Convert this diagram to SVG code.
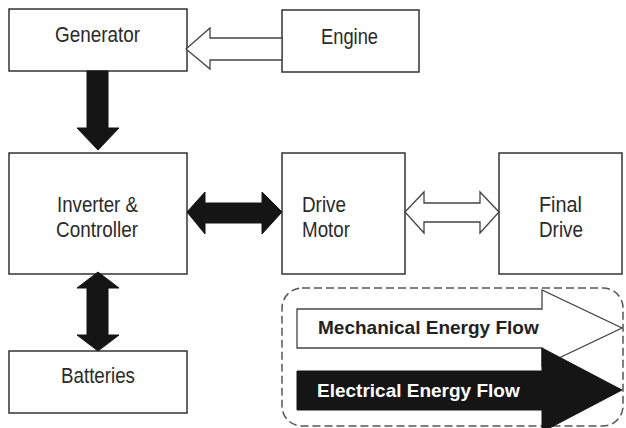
<svg xmlns="http://www.w3.org/2000/svg" width="626" height="428" viewBox="0 0 626 428">
<style>
.box{fill:#fff;stroke:#333;stroke-width:1.5}
.lbl{font-family:"Liberation Sans",Arial,sans-serif;font-size:22px;fill:#2a2a2a}
.leg{font-family:"Liberation Sans",Arial,sans-serif;font-size:19px;font-weight:bold}
.el{fill:#151515;stroke:#151515;stroke-width:1;stroke-linejoin:miter}
.me{fill:#fff;stroke:#444;stroke-width:1.3;stroke-linejoin:miter}
</style>
<rect width="626" height="428" fill="#fff"/>
<g id="generator"><rect class="box" x="9" y="9" width="178" height="62"/><text class="lbl" x="55" y="42" textLength="85" lengthAdjust="spacingAndGlyphs">Generator</text></g>
<g id="engine"><rect class="box" x="282" y="10" width="137" height="62"/><text class="lbl" x="321" y="44" textLength="57" lengthAdjust="spacingAndGlyphs">Engine</text></g>
<g id="inverter"><rect class="box" x="9" y="153" width="178" height="121"/><text class="lbl" x="57" y="212" textLength="81" lengthAdjust="spacingAndGlyphs">Inverter &amp;</text><text class="lbl" x="56" y="237" textLength="82" lengthAdjust="spacingAndGlyphs">Controller</text></g>
<g id="drivemotor"><rect class="box" x="282" y="153" width="123" height="121"/><text class="lbl" x="302" y="212" textLength="44" lengthAdjust="spacingAndGlyphs">Drive</text><text class="lbl" x="302" y="237" textLength="48" lengthAdjust="spacingAndGlyphs">Motor</text></g>
<g id="finaldrive"><rect class="box" x="499" y="153" width="123" height="121"/><text class="lbl" x="539" y="212" textLength="43" lengthAdjust="spacingAndGlyphs">Final</text><text class="lbl" x="539" y="237" textLength="44" lengthAdjust="spacingAndGlyphs">Drive</text></g>
<g id="batteries"><rect class="box" x="9" y="351" width="178" height="62"/><text class="lbl" x="61" y="383" textLength="74" lengthAdjust="spacingAndGlyphs">Batteries</text></g>
<g id="connectors">
<polygon class="me" points="282,38 210,38 210,28 186,49 210,69 210,60 282,60"/>
<polygon class="el" points="87,71 108,71 108,128 119,128 98,150 77,128 87,128"/>
<polygon class="el" points="98,272 119,288 108,288 108,335 119,335 98,351 77,335 87,335 87,288 77,288"/>
<polygon class="el" points="187,212 205,192 205,203 262,203 262,192 282,212 262,234 262,223 205,223 205,234"/>
<polygon class="me" points="405,212 424,192 424,203 480,203 480,192 499,212 480,233 480,222 424,222 424,233"/>
</g>
<g id="legend">
<rect x="282" y="288" width="341" height="138" rx="20" ry="20" fill="none" stroke="#555" stroke-width="1.5" stroke-dasharray="8 4"/>
<polygon class="me" points="297,309 542,309 542,290 622,328 542,366 542,348 297,348"/>
<polygon class="el" points="297,371 542,371 542,348 622,390 542,432 542,410 297,410"/>
<text class="leg" x="318" y="334" fill="#222">Mechanical Energy Flow</text>
<text class="leg" x="317" y="397" fill="#fff">Electrical Energy Flow</text>
</g>
</svg>
